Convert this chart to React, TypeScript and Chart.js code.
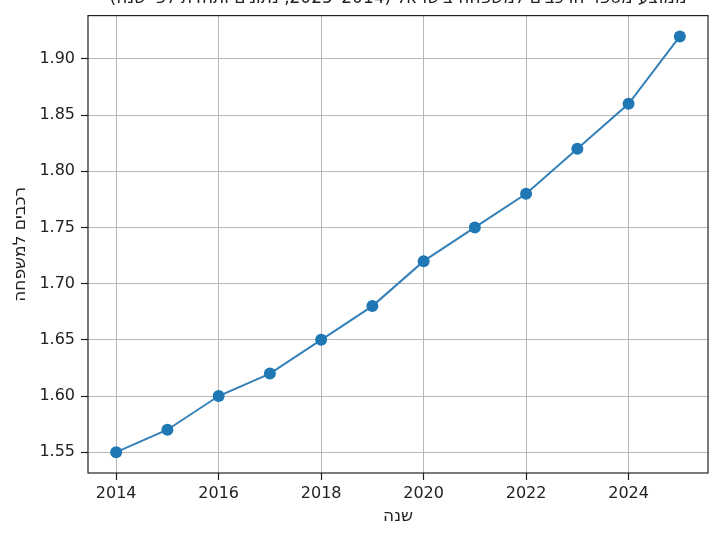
import React, { useEffect, useRef } from "react";
import { Chart, registerables } from "chart.js";

Chart.register(...registerables);

const years = [2014, 2015, 2016, 2017, 2018, 2019, 2020, 2021, 2022, 2023, 2024, 2025];
const carsPerFamily = [1.55, 1.57, 1.6, 1.62, 1.65, 1.68, 1.72, 1.75, 1.78, 1.82, 1.86, 1.92];
const xTicks = [2014, 2016, 2018, 2020, 2022, 2024];
const yTicks = [1.55, 1.6, 1.65, 1.7, 1.75, 1.8, 1.85, 1.9];
const titleText = "ממוצע מספר הרכבים למשפחה בישראל (2014–2025, נתונים ותחזית לפי שנה)";
const xLabel = "שנה";
const yLabel = "רכבים למשפחה";

const FONT = "'DejaVu Sans', sans-serif";

export default function App() {
  const ref = useRef<HTMLCanvasElement | null>(null);

  useEffect(() => {
    if (!ref.current) return;
    const framePlugin = {
      id: "frameAndTitle",
      afterDraw(chart: any) {
        const { ctx, chartArea } = chart;
        ctx.save();
        ctx.strokeStyle = "#222";
        ctx.lineWidth = 1.2;
        ctx.strokeRect(chartArea.left, chartArea.top, chartArea.right - chartArea.left, chartArea.bottom - chartArea.top);
        ctx.fillStyle = "#222";
        ctx.font = `17px ${FONT}`;
        ctx.textAlign = "center";
        ctx.textBaseline = "alphabetic";
        ctx.fillText(titleText, (chartArea.left + chartArea.right) / 2, 3);
        ctx.restore();
      },
    };
    const chart = new Chart(ref.current, {
      type: "line",
      data: {
        datasets: [
          {
            data: years.map((y, i) => ({ x: y, y: carsPerFamily[i] })),
            borderColor: "#3381b8",
            backgroundColor: "#1f77b4",
            borderWidth: 2,
            pointRadius: 6,
            pointHoverRadius: 6,
            pointBorderWidth: 0,
            pointBackgroundColor: "#1f77b4",
            tension: 0,
          },
        ],
      },
      options: {
        animation: false,
        responsive: false,
        devicePixelRatio: 1,
        layout: { padding: { top: 12, right: 12, left: 0, bottom: 0 } },
        plugins: { legend: { display: false }, tooltip: { enabled: false }, title: { display: false } },
        scales: {
          x: {
            type: "linear",
            min: 2013.45,
            max: 2025.55,
            afterBuildTicks: (s: any) => {
              s.ticks = xTicks.map((v) => ({ value: v }));
            },
            afterFit: (s: any) => {
              s.height = 65;
            },
            ticks: {
              font: { family: FONT, size: 16 },
              color: "#222",
              padding: 4,
              maxRotation: 0,
              callback: (v: any) => String(v),
            },
            grid: { color: "#b8b8b8", lineWidth: 1, tickColor: "#222", tickLength: 7, tickWidth: 1.2 },
            border: { display: false },
            title: {
              display: true,
              text: xLabel,
              font: { family: FONT, size: 17 },
              color: "#222",
              padding: { top: 0, bottom: 11 },
            },
          },
          y: {
            type: "linear",
            min: 1.5315,
            max: 1.9385,
            afterBuildTicks: (s: any) => {
              s.ticks = yTicks.map((v) => ({ value: v }));
            },
            afterFit: (s: any) => {
              s.width = 88;
            },
            ticks: {
              font: { family: FONT, size: 16 },
              color: "#222",
              padding: 6,
              callback: (v: any) => Number(v).toFixed(2),
            },
            grid: { color: "#b8b8b8", lineWidth: 1, tickColor: "#222", tickLength: 7, tickWidth: 1.2 },
            border: { display: false },
            title: {
              display: true,
              text: yLabel,
              font: { family: FONT, size: 17 },
              color: "#222",
              padding: { top: 10, bottom: 0 },
            },
          },
        },
      },
      plugins: [framePlugin],
    });
    return () => chart.destroy();
  }, []);

  return (
    <div style={{ position: "absolute", left: 0, top: 0, width: 720, height: 538, background: "#fff" }}>
      <canvas ref={ref} width={720} height={538} style={{ width: 720, height: 538, display: "block" }} />
    </div>
  );
}
